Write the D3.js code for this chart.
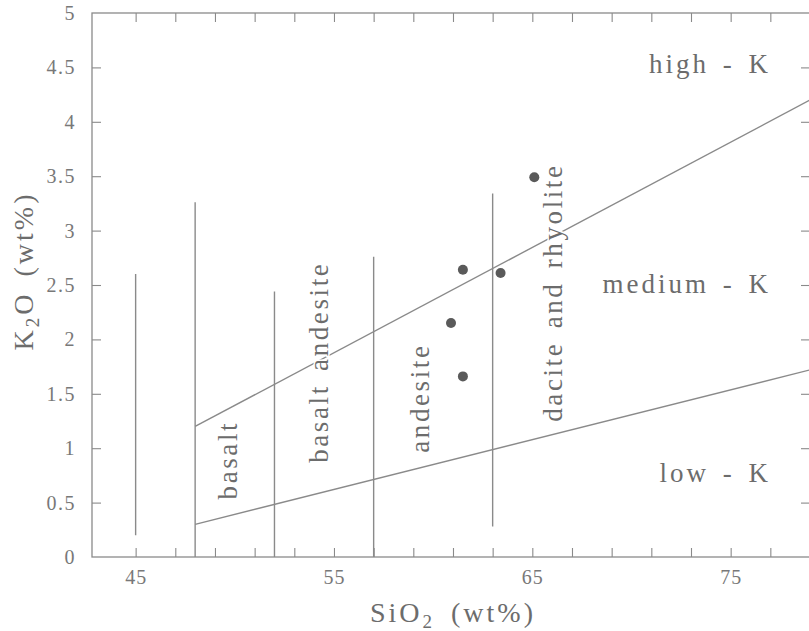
<!DOCTYPE html>
<html>
<head>
<meta charset="utf-8">
<script src="https://cdn.jsdelivr.net/npm/d3@7"></script>
<style>
  body { margin: 0; background: #fff; }
</style>
</head>
<body>
<div id="chart"></div>
<script>
// Données (SiO2 et K2O en wt%)
const sampleSiO2 = [65.1, 61.5, 63.4, 60.9, 61.5];
const sampleK2O = [3.49, 2.64, 2.61, 2.15, 1.66];

// limites medium/high-K et low/medium-K (points de début et de fin)
const highKBoundary = [[48, 1.2], [79, 4.2]];
const lowKBoundary = [[48, 0.3], [79, 1.72]];

// séparations verticales basalt / basalt andesite / andesite / dacite
const dividerSiO2 = [45, 48, 52, 57, 63];
const dividerBottom = [0.2, 0, 0, 0, 0.28];
const dividerTop = [2.6, 3.26, 2.44, 2.76, 3.34];

const rockNames = ["basalt", "basalt andesite", "andesite", "dacite and rhyolite"];
const rockSiO2 = [50.1, 54.7, 59.8, 66.5];
const rockK2O = [0.89, 1.79, 1.46, 2.43];

const seriesNames = ["high - K", "medium - K", "low - K"];
const seriesK2O = [4.45, 2.43, 0.69];

const xTickLabels = [45, 55, 65, 75];
const xMinorTicks = d3.range(45, 79, 2);
const yTicks = d3.range(0, 5.01, 0.5);

const margin = {top: 13, right: -1, bottom: 74, left: 92},
    width = 809 - margin.left - margin.right,
    height = 631 - margin.top - margin.bottom,
    tickSize = 9,
    labelRight = 679,
    serif = "'Liberation Serif'",
    textColor = "#6c6c6c",
    lineColor = "#8a8a8a";

const svg = d3.select("#chart").append("svg")
    .attr("width", 809)
    .attr("height", 631)
    .append("g")
    .attr("transform", "translate(" + margin.left + "," + margin.top + ")");

const x = d3.scaleLinear().domain([42.8, 79]).range([0, width]);
const y = d3.scaleLinear().domain([0, 5]).range([height, 0]);

// cadre
svg.append("rect")
    .attr("width", width)
    .attr("height", height)
    .style("fill", "none")
    .style("stroke", lineColor)
    .style("stroke-width", 1.3);

// graduations internes (bas, haut, gauche, droite)
svg.append("g")
    .attr("transform", "translate(0," + height + ")")
    .call(d3.axisBottom(x).tickValues(xMinorTicks).tickSize(-tickSize).tickFormat(""))
    .call(g => g.select(".domain").remove());
svg.append("g")
    .call(d3.axisTop(x).tickValues(xMinorTicks).tickSize(-tickSize).tickFormat(""))
    .call(g => g.select(".domain").remove());
svg.append("g")
    .call(d3.axisLeft(y).tickValues(yTicks.slice(1, -1)).tickSize(-tickSize).tickFormat(""))
    .call(g => g.select(".domain").remove());
svg.append("g")
    .attr("transform", "translate(" + width + ",0)")
    .call(d3.axisRight(y).tickValues(yTicks.slice(1, -1)).tickSize(-tickSize).tickFormat(""))
    .call(g => g.select(".domain").remove());
svg.selectAll(".tick line").style("stroke", lineColor).style("stroke-width", 1.1);

// étiquettes des axes
svg.append("g")
    .attr("transform", "translate(0," + height + ")")
    .call(d3.axisBottom(x).tickValues(xTickLabels).tickSize(0).tickPadding(13).tickFormat(d3.format("d")))
    .call(g => g.select(".domain").remove())
    .selectAll("text")
    .style("font-family", serif)
    .style("font-size", "20px")
    .style("letter-spacing", "1px")
    .style("fill", "#787878");

svg.append("g")
    .call(d3.axisLeft(y).tickValues(yTicks).tickSize(0).tickPadding(16).tickFormat(d => d3.format("")(d)))
    .call(g => g.select(".domain").remove())
    .selectAll("text")
    .style("font-family", serif)
    .style("font-size", "20px")
    .style("letter-spacing", "1.5px")
    .style("fill", "#787878");

const xTitle = svg.append("text")
    .attr("x", 453 - margin.left)
    .attr("y", 622 - margin.top)
    .attr("text-anchor", "middle")
    .style("font-family", serif)
    .style("font-size", "28px")
    .style("letter-spacing", "3px")
    .style("word-spacing", "6px")
    .style("fill", textColor);
xTitle.append("tspan").text("SiO");
xTitle.append("tspan").attr("dy", 6).style("font-size", "19px").text("2");
xTitle.append("tspan").attr("dy", -6).text(" (wt%)");

const yTitle = svg.append("text")
    .attr("transform", "translate(" + (33 - margin.left) + "," + (271 - margin.top) + ") rotate(-90)")
    .attr("text-anchor", "middle")
    .style("font-family", serif)
    .style("font-size", "28px")
    .style("letter-spacing", "3px")
    .style("word-spacing", "5px")
    .style("fill", textColor);
yTitle.append("tspan").text("K");
yTitle.append("tspan").attr("dy", 6).style("font-size", "19px").text("2");
yTitle.append("tspan").attr("dy", -6).text("O (wt%)");

// limites des séries
const line = d3.line().x(d => x(d[0])).y(d => y(d[1]));
[highKBoundary, lowKBoundary].forEach(b => {
    svg.append("path")
        .attr("d", line(b))
        .style("fill", "none")
        .style("stroke", lineColor)
        .style("stroke-width", 1.4);
});

svg.selectAll("line.divider")
    .data(dividerSiO2)
    .enter().append("line")
    .attr("class", "divider")
    .attr("x1", d => x(d))
    .attr("x2", d => x(d))
    .attr("y1", (d, i) => y(dividerBottom[i]))
    .attr("y2", (d, i) => y(dividerTop[i]))
    .style("stroke", lineColor)
    .style("stroke-width", 1.4);

// noms des roches, verticaux
svg.selectAll("text.rock")
    .data(rockNames)
    .enter().append("text")
    .attr("class", "rock")
    .attr("transform", (d, i) => "translate(" + x(rockSiO2[i]) + "," + y(rockK2O[i]) + ") rotate(-90)")
    .attr("text-anchor", "middle")
    .style("font-family", serif)
    .style("font-size", "27px")
    .style("letter-spacing", "2.6px")
    .style("word-spacing", "4px")
    .style("fill", textColor)
    .style("paint-order", "stroke")
    .style("stroke", "#fff")
    .style("stroke-width", 3)
    .text(d => d);

svg.selectAll("text.series")
    .data(seriesNames)
    .enter().append("text")
    .attr("class", "series")
    .attr("x", labelRight)
    .attr("y", (d, i) => y(seriesK2O[i]))
    .attr("text-anchor", "end")
    .style("font-family", serif)
    .style("font-size", "27px")
    .style("letter-spacing", "3px")
    .style("word-spacing", "4px")
    .style("fill", textColor)
    .text(d => d);

// échantillons
svg.selectAll("circle")
    .data(sampleSiO2)
    .enter().append("circle")
    .attr("cx", d => x(d))
    .attr("cy", (d, i) => y(sampleK2O[i]))
    .attr("r", 5)
    .style("fill", "#5a5a5a");
</script>
</body>
</html>
